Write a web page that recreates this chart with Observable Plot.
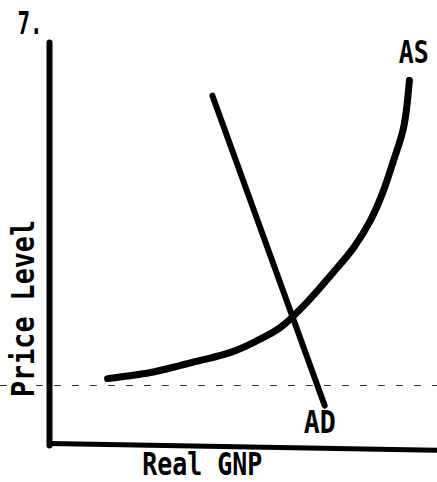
<!DOCTYPE html>
<html>
<head>
<meta charset="utf-8">
<script src="https://cdn.jsdelivr.net/npm/d3@7"></script>
<script src="https://cdn.jsdelivr.net/npm/@observablehq/plot@0.6"></script>
<style>
  html, body { margin: 0; padding: 0; background: #fff; }
  #chart { width: 437px; height: 482px; }
</style>
</head>
<body>
<div id="chart"></div>
<script>
// Aggregate supply curve (Real GNP, Price Level), in abstract units 0–10
const asGNP   = [1.50, 2.61, 3.39, 3.90, 4.68, 5.32, 5.97, 6.67, 7.31, 7.86, 8.29, 8.60, 8.89, 9.15, 9.30];
const asPrice = [1.66, 1.81, 1.99, 2.11, 2.31, 2.58, 2.93, 3.57, 4.27, 4.91, 5.58, 6.25, 7.07, 7.89, 9.06];
// Aggregate demand line endpoints
const adGNP   = [4.21, 7.11];
const adPrice = [8.68, 0.99];
// Faint dashed reference level
const refGNP   = [-1.27, 10.03];
const refPrice = [1.49, 1.49];
// Axis lines
const yAxisGNP = [0, 0];
const yAxisPrice = [10, 0];
const xAxisGNP = [0, 10];
const xAxisPrice = [0.05, -0.12];
// Labels
const labelText  = ["7.", "AS", "AD", "Real GNP"];
const labelGNP   = [-0.83, 9.41, 6.98, 3.95];
const labelPrice = [10.22, 9.48, 0.32, -0.74];
const labelAnchor = ["start", "middle", "middle", "middle"];
const labelWidth = [25, 30, 32, 120];
const yTitle = "Price Level";
const yTitleGNP = -0.41, yTitlePrice = 3.40, yTitleWidth = 177;

const asData = asGNP.map((x, i) => ({x, y: asPrice[i]}));
const adData = adGNP.map((x, i) => ({x, y: adPrice[i]}));
const refData = refGNP.map((x, i) => ({x, y: refPrice[i]}));
const yAxisData = yAxisGNP.map((x, i) => ({x, y: yAxisPrice[i]}));
const xAxisData = xAxisGNP.map((x, i) => ({x, y: xAxisPrice[i]}));
const labels = labelText.map((t, i) => ({t, x: labelGNP[i], y: labelPrice[i], a: labelAnchor[i], w: labelWidth[i]}));

const font = "DejaVu Sans Mono";
const fs = 32;

const plot = Plot.plot({
  width: 437,
  height: 482,
  marginLeft: 49,
  marginRight: 1,
  marginTop: 42,
  marginBottom: 37,
  x: {domain: [0, 10], axis: null},
  y: {domain: [0, 10], axis: null},
  style: {background: "#fff", overflow: "visible"},
  marks: [
    Plot.line(refData, {x: "x", y: "y", stroke: "#333", strokeWidth: 1.1, strokeDasharray: "6,12"}),
    Plot.line(yAxisData, {x: "x", y: "y", stroke: "#000", strokeWidth: 6, strokeLinecap: "round"}),
    Plot.line(xAxisData, {x: "x", y: "y", stroke: "#000", strokeWidth: 5, strokeLinecap: "round"}),
    Plot.line(asData, {x: "x", y: "y", curve: "catmull-rom", stroke: "#000", strokeWidth: 7, strokeLinecap: "round"}),
    Plot.line(adData, {x: "x", y: "y", stroke: "#000", strokeWidth: 6, strokeLinecap: "round"}),
    Plot.text(labels.filter(d => d.a === "start"), {x: "x", y: "y", text: "t", textAnchor: "start", lineAnchor: "bottom",
      fontFamily: font, fontWeight: "bold", fontSize: fs, fill: "#000"}),
    Plot.text(labels.filter(d => d.a === "middle"), {x: "x", y: "y", text: "t", textAnchor: "middle", lineAnchor: "bottom",
      fontFamily: font, fontWeight: "bold", fontSize: fs, fill: "#000"}),
    Plot.text([{t: yTitle, x: yTitleGNP, y: yTitlePrice}], {x: "x", y: "y", text: "t", rotate: -90,
      textAnchor: "middle", lineAnchor: "bottom", fontFamily: font, fontWeight: "bold", fontSize: fs, fill: "#000"})
  ]
});

// condense the typewriter-style lettering to the widths seen in the scan
const widthByText = new Map(labels.map(d => [d.t, d.w]));
widthByText.set(yTitle, yTitleWidth);
d3.select(plot).selectAll("text").each(function() {
  const t = this.textContent;
  if (widthByText.has(t)) {
    d3.select(this).attr("textLength", widthByText.get(t)).attr("lengthAdjust", "spacingAndGlyphs");
  }
});

document.getElementById("chart").appendChild(plot);
</script>
</body>
</html>
